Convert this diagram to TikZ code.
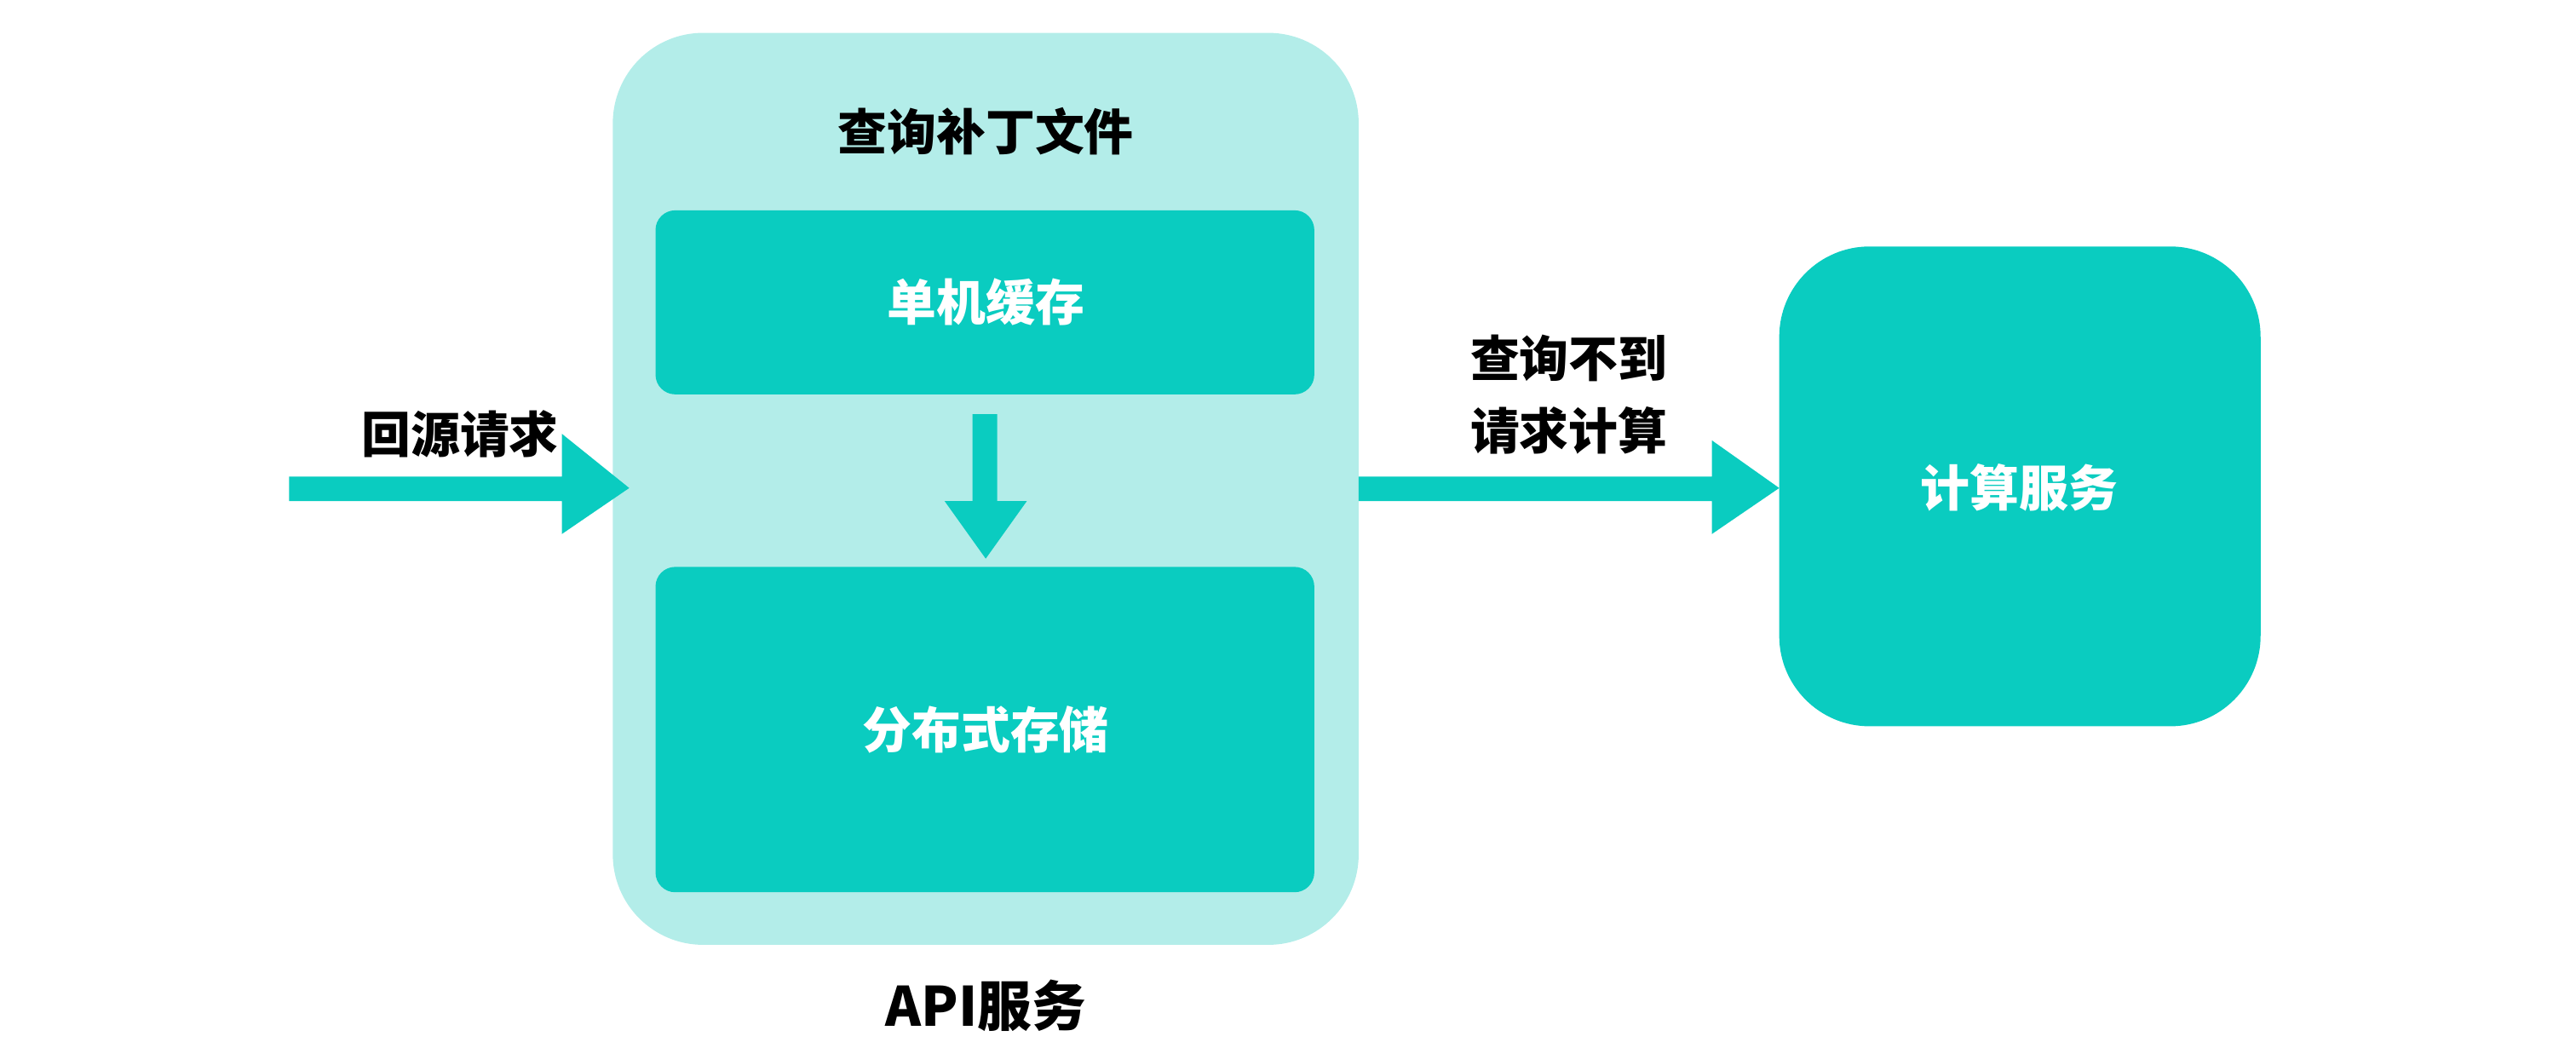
\documentclass[tikz,border=0pt]{standalone}
\usepackage{fontspec}
\newfontfamily\cjk{Noto Sans CJK SC}
\definecolor{teal1}{HTML}{0ACCC0}
\definecolor{teal2}{HTML}{B3EDE9}
\begin{document}
\begin{tikzpicture}[x=1pt,y=-1pt,
  lbl/.style={font=\cjk\bfseries\fontsize{30}{34}\selectfont},
  wlbl/.style={lbl,text=white},
  arr/.style={fill=teal1,draw=none}]
\useasboundingbox (0,0) rectangle (1568,634);
\fill[teal2,rounded corners=55] (373,20) rectangle (827,575);
\node[lbl] (t) at (600,80) {查询补丁文件};
\fill[teal1,rounded corners=12] (399,128) rectangle (800,240);
\node[wlbl] (a) at (600,184) {单机缓存};
\fill[teal1,rounded corners=12] (399,345) rectangle (800,543);
\node[wlbl] (b) at (600,444) {分布式存储};
\node[lbl,font=\cjk\bfseries\fontsize{33}{36}\selectfont] (api) at (600,612) {API服务};
\fill[arr] (592,252) -- (607,252) -- (607,305) -- (625,305) -- (600,340) -- (575,305) -- (592,305) -- cycle;
\fill[arr] (176,290) -- (342,290) -- (342,264) -- (383,297) -- (342,325) -- (342,305) -- (176,305) -- cycle;
\node[lbl] (l) at (280,264) {回源请求};
\fill[arr] (827,290) -- (1042,290) -- (1042,268) -- (1083,297) -- (1042,325) -- (1042,305) -- (827,305) -- cycle;
\node[lbl] (r1) at (955,218) {查询不到};
\node[lbl] (r2) at (955,262) {请求计算};
\fill[teal1,rounded corners=55] (1083,150) rectangle (1376,442);
\node[wlbl] (c) at (1229,297) {计算服务};
\end{tikzpicture}
\end{document}
